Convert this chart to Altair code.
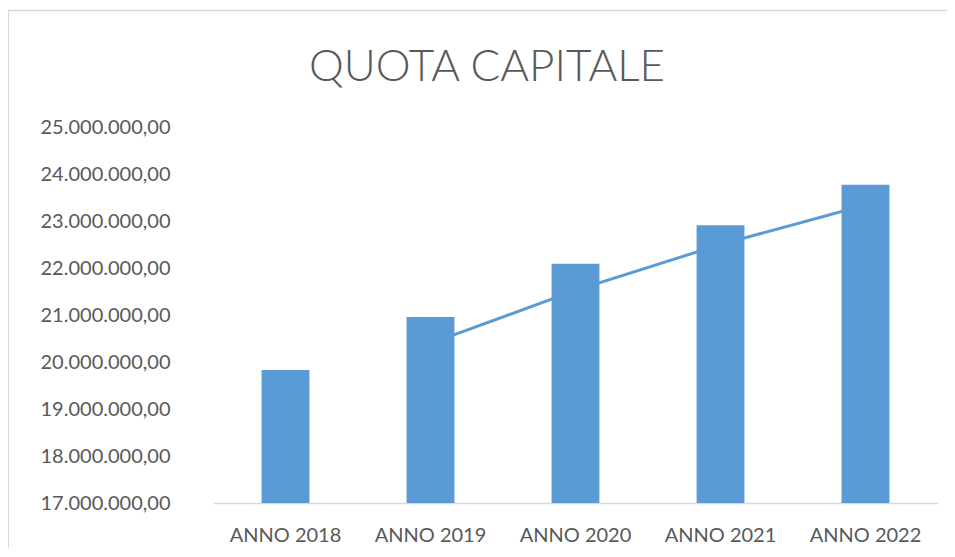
import altair as alt
import pandas as pd

title_text = "QUOTA CAPITALE"
years = ["ANNO 2018", "ANNO 2019", "ANNO 2020", "ANNO 2021", "ANNO 2022"]
values = [19830000, 20960000, 22090000, 22910000, 23770000]
y_ticks = [17000000, 18000000, 19000000, 20000000, 21000000, 22000000, 23000000, 24000000, 25000000]

df = pd.DataFrame({"anno": years, "valore": values, "idx": list(range(len(years)))})

BLUE = "#5B9BD5"
GREY = "#595959"
FONT = "Lato"

x_enc = alt.X("anno:N", sort=years, title=None,
              scale=alt.Scale(paddingInner=0.67, paddingOuter=0.335),
              axis=alt.Axis(labelAngle=0, ticks=False, domainColor="#D9D9D9", domainWidth=1.5,
                            labelFontSize=20, labelColor=GREY, labelFont=FONT, labelPadding=22))
y_scale = alt.Scale(domain=[17000000, 25000000], zero=False, nice=False)
y_enc = alt.Y("valore:Q", title=None, scale=y_scale,
              axis=alt.Axis(values=y_ticks, grid=False, domain=False, ticks=False,
                            labelFontSize=20, labelColor=GREY, labelFont=FONT, labelPadding=43,
                            labelExpr="join(split(format(datum.value, ',d'), ','), '.') + ',00'"))

base = alt.Chart(df)

line = base.transform_window(
    media="mean(valore)", n="count()", sort=[alt.SortField("idx")], frame=[-1, 0]
).transform_filter("datum.n == 2").mark_line(color=BLUE, strokeWidth=3).encode(
    x=x_enc,
    y=alt.Y("media:Q", scale=y_scale, title=None),
)

bars = base.mark_bar(color=BLUE).encode(
    x=x_enc,
    y=y_enc,
    y2=alt.datum(17000000),
)

title_df = pd.DataFrame({"t": [title_text]})
title = alt.Chart(title_df).mark_text(
    font=FONT, fontSize=44, fontWeight=300, color=GREY, align="center", baseline="alphabetic"
).encode(x=alt.value(274), y=alt.value(-46), text="t:N")

frame_v = alt.Chart(title_df).mark_rule(color="#D9D9D9", strokeWidth=2).encode(
    x=alt.value(-205), y=alt.value(-117), y2=alt.value(440))
frame_h = alt.Chart(title_df).mark_rule(color="#D9D9D9", strokeWidth=1.5).encode(
    x=alt.value(-206), x2=alt.value(760), y=alt.value(-116.5))

chart = alt.layer(frame_v, frame_h, line, bars, title).resolve_scale(y="shared").properties(
    width=725,
    height=376,
    padding={"left": 205, "top": 119, "right": 9, "bottom": 45},
    autosize=alt.AutoSizeParams(type="none"),
).configure_view(stroke=None)

chart.save("out.html", embed_options={"renderer": "svg", "actions": False})
